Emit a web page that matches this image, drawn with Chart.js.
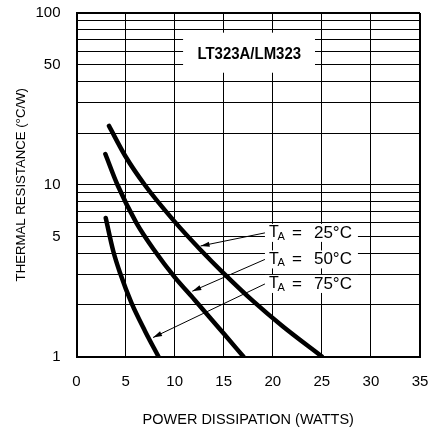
<!DOCTYPE html>
<html>
<head>
<meta charset="utf-8">
<script src="https://cdn.jsdelivr.net/npm/chart.js@4/dist/chart.umd.min.js"></script>
<style>
  html, body { margin: 0; padding: 0; background: #fff; }
  #thermalChart { display: block; }
</style>
</head>
<body>
<canvas id="thermalChart" width="429" height="430"></canvas>
<script>
// values (watts -> degC/W)
var power25 = [3.31, 5, 7, 10, 12.6, 15, 18, 21, 25];
var theta25 = [22, 14.6, 9.9, 6.1, 4.2, 3.05, 2.1, 1.5, 1];
var power50 = [2.94, 4.17, 6.1, 8, 10, 12, 15, 17];
var theta50 = [15.1, 10, 6, 4.1, 2.9, 2.15, 1.36, 1];
var power75 = [2.98, 3.75, 4.45, 5.6, 7, 8.35];
var theta75 = [6.4, 4.1, 3.05, 2.05, 1.4, 1];
var ambientTemps = ["25°C", "50°C", "75°C"];
var partName = "LT323A/LM323";

var xTicks = [0, 5, 10, 15, 20, 25, 30, 35];
var yGridValues = [1, 2, 3, 4, 5, 6, 7, 8, 9, 10, 20, 30, 40, 50, 60, 70, 80, 90, 100];
var yLabels = [1, 5, 10, 50, 100];

var sans = "'Liberation Sans', Arial, sans-serif";

function toPoints(xs, ys) {
    var pts = [];
    for (var i = 0; i < xs.length; i++) {
        pts.push({ x: xs[i], y: ys[i] });
    }
    return pts;
}

function curve(label, xs, ys) {
    return {
        label: label,
        data: toPoints(xs, ys),
        showLine: true,
        borderColor: "#000",
        borderWidth: 4.5,
        borderCapStyle: "round",
        pointRadius: 0,
        cubicInterpolationMode: "monotone"
    };
}

// part number box, T_A notes and their leader arrows
var notesPlugin = {
    id: "notes",
    beforeDatasetsDraw: function (chart) {
        var ctx = chart.ctx;
        var xs = chart.scales.x;
        var ys = chart.scales.y;
        ctx.save();

        var bx0 = xs.getPixelForValue(10.86), bx1 = xs.getPixelForValue(24.3);
        var by0 = ys.getPixelForValue(76.8), by1 = ys.getPixelForValue(44.9);
        ctx.fillStyle = "#fff";
        ctx.fillRect(bx0, by0, bx1 - bx0, by1 - by0);
        ctx.fillStyle = "#000";
        ctx.font = "bold 17px " + sans;
        ctx.textAlign = "center";
        ctx.textBaseline = "middle";
        ctx.save();
        ctx.translate(xs.getPixelForValue(17.6), ys.getPixelForValue(58.6));
        ctx.scale(0.88, 1);
        ctx.fillText(partName, 0, 1);
        ctx.restore();

        var noteY = [5.245, 3.675, 2.645];
        var left = xs.getPixelForValue(19.2);
        for (var i = 0; i < ambientTemps.length; i++) {
            var cy = ys.getPixelForValue(noteY[i]);
            ctx.fillStyle = "#fff";
            ctx.fillRect(left, cy - 9, 93, 18);
            ctx.fillStyle = "#000";
            ctx.textAlign = "left";
            ctx.textBaseline = "middle";
            ctx.font = "16px " + sans;
            ctx.fillText("T", left + 4, cy);
            ctx.font = "11px " + sans;
            ctx.fillText("A", left + 12.5, cy + 4);
            ctx.font = "17px " + sans;
            ctx.fillText("=", left + 27, cy);
            ctx.fillText(ambientTemps[i], left + 49, cy);
        }
        ctx.restore();
    },
    afterDatasetsDraw: function (chart) {
        var ctx = chart.ctx;
        var xs = chart.scales.x;
        var ys = chart.scales.y;
        var arrows = [
            [19.2, 5.245, 12.64, 4.4],
            [19.2, 3.675, 11.8, 2.4],
            [19.2, 2.645, 7.8, 1.29]
        ];
        ctx.save();
        ctx.strokeStyle = "#000";
        ctx.fillStyle = "#000";
        ctx.lineWidth = 1;
        arrows.forEach(function (a) {
            var x0 = xs.getPixelForValue(a[0]), y0 = ys.getPixelForValue(a[1]);
            var x1 = xs.getPixelForValue(a[2]), y1 = ys.getPixelForValue(a[3]);
            var ang = Math.atan2(y1 - y0, x1 - x0);
            var c = Math.cos(ang), s = Math.sin(ang);
            ctx.beginPath();
            ctx.moveTo(x0, y0);
            ctx.lineTo(x1, y1);
            ctx.stroke();
            ctx.beginPath();
            ctx.moveTo(x1, y1);
            ctx.lineTo(x1 - 9 * c + 2.6 * s, y1 - 9 * s - 2.6 * c);
            ctx.lineTo(x1 - 9 * c - 2.6 * s, y1 - 9 * s + 2.6 * c);
            ctx.closePath();
            ctx.fill();
        });
        ctx.restore();
    }
};

Chart.defaults.color = "#000";
Chart.defaults.font.family = sans;

var canvas = document.getElementById("thermalChart");
var thermalChart = new Chart(canvas, {
    type: "scatter",
    data: {
        datasets: [
            curve(ambientTemps[0], power25, theta25),
            curve(ambientTemps[1], power50, theta50),
            curve(ambientTemps[2], power75, theta75)
        ]
    },
    options: {
        responsive: false,
        animation: false,
        devicePixelRatio: 1,
        layout: { padding: { top: 13, right: 9, left: 0, bottom: 0 } },
        plugins: {
            legend: { display: false },
            tooltip: { enabled: false }
        },
        scales: {
            x: {
                type: "linear",
                min: 0,
                max: 35,
                afterBuildTicks: function (scale) {
                    scale.ticks = xTicks.map(function (v) { return { value: v }; });
                },
                afterFit: function (scale) {
                    scale.height = 73.5;
                    scale.paddingLeft = 0;
                    scale.paddingRight = 0;
                },
                ticks: {
                    padding: 16,
                    font: { size: 15 },
                    maxRotation: 0
                },
                grid: {
                    color: "#000",
                    drawTicks: false,
                    lineWidth: function (c) { return c.tick && c.tick.value === 35 ? 2 : 1; }
                },
                border: { color: "#000", width: 2 },
                title: {
                    display: true,
                    text: "POWER DISSIPATION (WATTS)",
                    font: { size: 14.5 },
                    padding: { top: 0, bottom: 1 }
                }
            },
            y: {
                type: "logarithmic",
                min: 1,
                max: 100,
                afterBuildTicks: function (scale) {
                    scale.ticks = yGridValues.map(function (v) { return { value: v }; });
                },
                afterFit: function (scale) {
                    scale.width = 76.5;
                    scale.paddingTop = 0;
                    scale.paddingBottom = 0;
                },
                ticks: {
                    autoSkip: false,
                    padding: 16,
                    font: { size: 15 },
                    callback: function (value) {
                        return yLabels.indexOf(value) >= 0 ? String(value) : "";
                    }
                },
                grid: {
                    color: "#000",
                    drawTicks: false,
                    lineWidth: function (c) { return c.tick && c.tick.value === 100 ? 2 : 1; }
                },
                border: { color: "#000", width: 2 },
                title: {
                    display: true,
                    text: "THERMAL RESISTANCE (°C/W)",
                    font: { size: 13.2 },
                    padding: { top: 13, bottom: 0 }
                }
            }
        }
    },
    plugins: [notesPlugin]
});
</script>
</body>
</html>
